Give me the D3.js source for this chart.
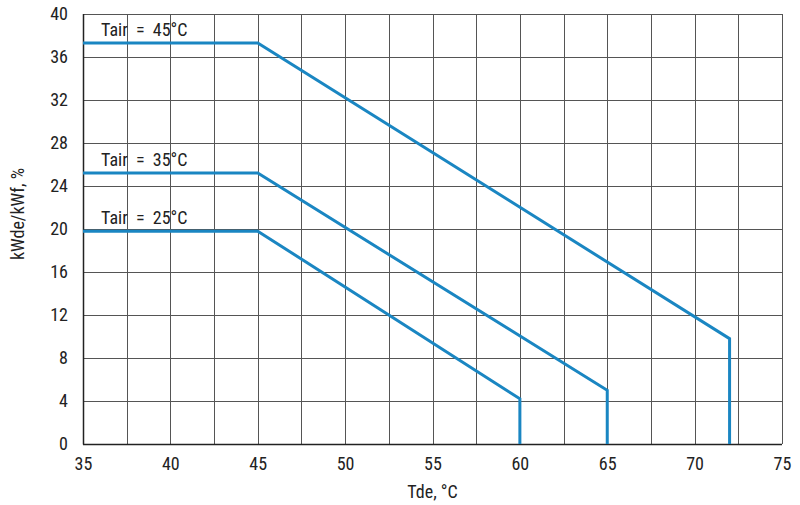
<!DOCTYPE html>
<html>
<head>
<meta charset="utf-8">
<script src="https://cdn.jsdelivr.net/npm/d3@7"></script>
<style>
  body { margin: 0; background: #fff; }
  svg text { font-family: "Liberation Sans Narrow", "Roboto Condensed", "Liberation Sans", sans-serif; fill: #222; }
</style>
</head>
<body>
<svg id="chart"></svg>
<script>
// Curves: x = Tde (°C), y = kWde/kWf (%)
const seriesNames = ["Tair = 45°C", "Tair = 35°C", "Tair = 25°C"];
const seriesX = [
  [35, 45, 72, 72],
  [35, 45, 65, 65],
  [35, 45, 60, 60]
];
const seriesY = [
  [37.3, 37.3, 9.8, 0],
  [25.2, 25.2, 5.0, 0],
  [19.8, 19.8, 4.2, 0]
];
const xTicks = [35, 40, 45, 50, 55, 60, 65, 70, 75];
const xGrid = d3.range(35, 75.1, 2.5);
const yTicks = d3.range(0, 40.1, 4);

const width = 800, height = 505;
const margin = { top: 14, right: 18, bottom: 61, left: 83 };
const w = width - margin.left - margin.right,
      h = height - margin.top - margin.bottom;

const svg = d3.select("#chart").attr("width", width).attr("height", height);
const g = svg.append("g").attr("transform", `translate(${margin.left},${margin.top})`);

const x = d3.scaleLinear().domain([35, 75]).range([0, w]);
const y = d3.scaleLinear().domain([0, 40]).range([h, 0]);

// grid
g.append("g").selectAll("line").data(xGrid).enter().append("line")
  .attr("x1", d => Math.round(x(d)) + 0.5).attr("x2", d => Math.round(x(d)) + 0.5)
  .attr("y1", 0).attr("y2", h)
  .attr("stroke", "#555").attr("stroke-width", 1);
g.append("g").selectAll("line").data(yTicks).enter().append("line")
  .attr("y1", d => Math.round(y(d)) + 0.5).attr("y2", d => Math.round(y(d)) + 0.5)
  .attr("x1", 0).attr("x2", w)
  .attr("stroke", "#555").attr("stroke-width", 1);

// axes lines
g.append("line").attr("x1", 0.5).attr("x2", 0.5).attr("y1", 0).attr("y2", h + 0.5)
  .attr("stroke", "#222").attr("stroke-width", 1.5);
g.append("line").attr("x1", 0).attr("x2", w).attr("y1", h + 0.5).attr("y2", h + 0.5)
  .attr("stroke", "#222").attr("stroke-width", 1.5);

// tick labels
const xAxis = g.append("g").attr("transform", `translate(0,${h})`)
  .call(d3.axisBottom(x).tickValues(xTicks).tickSize(0).tickPadding(13));
xAxis.select(".domain").remove();
xAxis.selectAll("text").style("font-size", "18px").attr("fill", "#222");

const yAxis = g.append("g")
  .call(d3.axisLeft(y).tickValues(yTicks).tickSize(0).tickPadding(15));
yAxis.select(".domain").remove();
yAxis.selectAll("text").style("font-size", "18px").attr("fill", "#222");

// axis titles
svg.append("text")
  .attr("x", margin.left + w / 2).attr("y", 498)
  .attr("text-anchor", "middle").style("font-size", "18px")
  .text("Tde, °C");
svg.append("text")
  .attr("transform", `translate(24,${214})rotate(-90)`)
  .attr("text-anchor", "middle").style("font-size", "18px")
  .text("kWde/kWf, %");

// curves
const line = d3.line().x(d => x(d[0])).y(d => y(d[1]));
seriesNames.forEach((name, i) => {
  const pts = seriesX[i].map((v, j) => [v, seriesY[i][j]]);
  g.append("path").datum(pts)
    .attr("d", line)
    .attr("fill", "none")
    .attr("stroke", "#1a86c2")
    .attr("stroke-width", 3)
    .attr("stroke-linejoin", "miter");
  g.append("text")
    .attr("x", x(35) + 18)
    .attr("y", y(seriesY[i][0]) - 7)
    .attr("xml:space", "preserve")
    .style("font-size", "18px")
    .text(name.replace(" = ", "  =  "));
});
</script>
</body>
</html>
